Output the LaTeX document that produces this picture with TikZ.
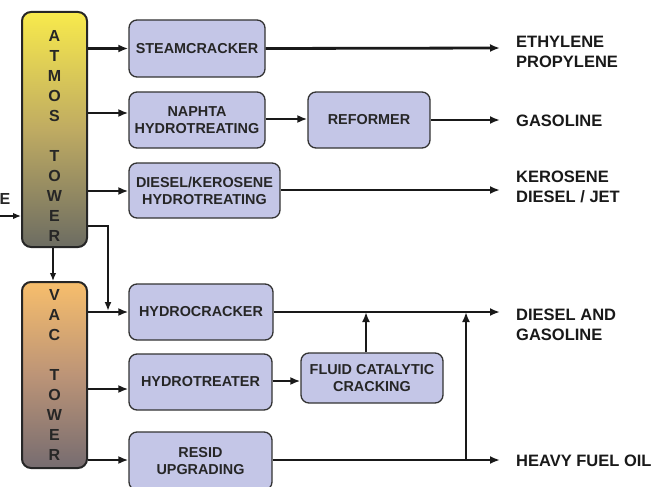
\documentclass[tikz,border=0pt]{standalone}
\usepackage{fontspec}
\setmainfont{Liberation Sans}
\usetikzlibrary{arrows.meta,calc}
\definecolor{boxfill}{HTML}{C4C6E7}
\definecolor{boxline}{HTML}{333333}
\definecolor{txt}{HTML}{262626}
\definecolor{atmtop}{HTML}{F8EA4C}
\definecolor{atmmid}{HTML}{BFAB62}
\definecolor{atmbot}{HTML}{6C6C62}
\definecolor{vactop}{HTML}{F7BE6C}
\definecolor{vacmid}{HTML}{BC9477}
\definecolor{vacbot}{HTML}{766C70}
\begin{document}
\begin{tikzpicture}[x=1pt,y=-1pt,
  unit/.style={draw=boxline, line width=1.3pt, fill=boxfill, rounded corners=8pt,
    align=center, text=txt, font=\bfseries\fontsize{14.4}{17}\selectfont, inner sep=0pt},
  tower/.style={draw=black!85, line width=2pt, rounded corners=9pt, inner sep=0pt,
    minimum width=65pt},
  towertext/.style={align=center, text=txt, inner sep=0pt, anchor=north,
    font=\bfseries\fontsize{16}{20}\selectfont},
  product/.style={anchor=west, align=left, text=black!90, inner sep=0pt,
    font=\bfseries\fontsize{16.5}{20}\selectfont},
  flow/.style={line width=2.8pt, draw=black!90, -{Latex[length=10pt,width=8pt]}},
  thinflow/.style={line width=1.4pt, draw=black!90, -{Latex[length=8pt,width=6.5pt]}},
  midflow/.style={line width=2.2pt, draw=black!90, -{Latex[length=9pt,width=7pt]}}
]
\useasboundingbox (0,0) rectangle (653,487);

% towers
\node[tower, minimum height=235pt, top color=atmtop, bottom color=atmbot, middle color=atmmid] (atm) at (54.5,129.5) {};
\node[towertext] (atmlbl) at (54.5,30.3) {A\\T\\M\\O\\S\\~\\T\\O\\W\\E\\R};
\node[tower, minimum height=186pt, top color=vactop, bottom color=vacbot, middle color=vacmid] (vac) at (54.5,375) {};
\node[towertext] (vaclbl) at (54.5,289.3) {V\\A\\C\\~\\T\\O\\W\\E\\R};

% units
\node[unit, minimum width=136pt, minimum height=57pt] (sc) at (197,48.5) {STEAMCRACKER};
\node[unit, minimum width=136pt, minimum height=56pt] (nh) at (197,120) {NAPHTA\\HYDROTREATING};
\node[unit, minimum width=122pt, minimum height=56pt] (ref) at (369,120) {REFORMER};
\node[unit, minimum width=151pt, minimum height=55pt] (dk) at (204.5,190.5) {DIESEL/KEROSENE\\HYDROTREATING};
\node[unit, minimum width=144pt, minimum height=56pt] (hc) at (201,312) {HYDROCRACKER};
\node[unit, minimum width=143pt, minimum height=56pt] (ht) at (200.5,382) {HYDROTREATER};
\node[unit, minimum width=142pt, minimum height=50pt] (fcc) at (372,378) {FLUID CATALYTIC\\CRACKING};
\node[unit, minimum width=143pt, minimum height=58pt] (ru) at (200.5,461) {RESID\\UPGRADING};

% products
\node[product] (p1) at (516,52) {ETHYLENE\\PROPYLENE};
\node[product] (p2) at (516,121) {GASOLINE};
\node[product] (p3) at (516,186.5) {KEROSENE\\DIESEL / JET};
\node[product] (p4) at (516,325) {DIESEL AND\\GASOLINE};
\node[product] (p5) at (516,460.5) {HEAVY FUEL OIL};

% feed
\node[anchor=east, inner sep=0pt, text=txt, font=\bfseries\fontsize{16}{18}\selectfont] (feedlbl) at (10.5,199) {E};
\coordinate (feed) at (0,216);
\draw[thinflow] (feed) -- (atm.west |- feed);

% coordinates
\coordinate (o1) at (500,48);
\coordinate (o2) at (500,120);
\coordinate (o3) at (500,190);
\coordinate (o4) at (500,312);
\coordinate (o5) at (500,460);
\coordinate (bend) at (108,226);
\coordinate (j1) at (108,311);
\coordinate (j2) at (366,312);
\coordinate (j3) at (466,312);
\coordinate (j4) at (466,460);

% atmospheric tower outputs
\draw[flow] (atm.east |- sc.west) -- (sc.west);
\draw[flow] (atm.east |- 0,113) -- (nh.west |- 0,113);
\draw[flow] (atm.east |- 0,191) -- (dk.west |- 0,191);
\draw[midflow] (atm.east |- bend) -- (bend) -- (j1);
\draw[thinflow] (atm.south -| 53,0) -- (vac.north -| 53,0);

% vacuum tower outputs
\draw[flow] (vac.east |- hc.west) -- (hc.west);
\draw[flow] (vac.east |- 0,389) -- (ht.west |- 0,389);
\draw[flow] (vac.east |- 0,460) -- (ru.west |- 0,460);

% unit outputs
\draw[flow] (sc.east) -- (o1);
\draw[flow] (nh.east |- 0,119) -- (ref.west |- 0,119);
\draw[flow] (ref.east) -- (o2);
\draw[flow] (dk.east |- o3) -- (o3);
\draw[flow] (hc.east) -- (o4);
\draw[flow] (ht.east |- 0,381) -- (fcc.west |- 0,381);
\draw[flow] (fcc.north -| j2) -- (j2);
\draw[flow] (ru.east |- o5) -- (o5);
\draw[flow] (j4) -- (j3);
\end{tikzpicture}
\end{document}
